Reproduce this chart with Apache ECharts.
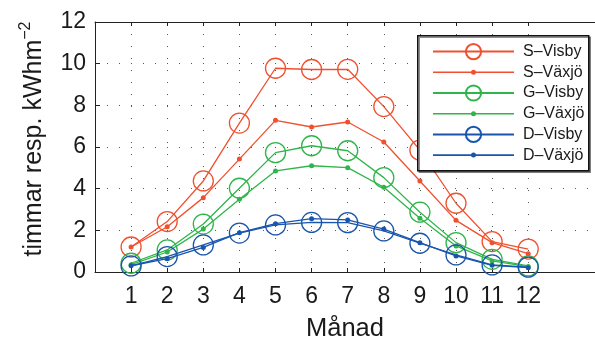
<!DOCTYPE html>
<html>
<head>
<meta charset="utf-8">
<script src="https://cdn.jsdelivr.net/npm/echarts@6/dist/echarts.min.js"></script>
<style>
  html, body { margin: 0; padding: 0; background: #fff; }
  #chart { width: 595px; height: 340px; }
</style>
</head>
<body>
<div id="chart"></div>
<script>
// 月份
var months = [1, 2, 3, 4, 5, 6, 7, 8, 9, 10, 11, 12]
var seriesNames = ['S\u2013Visby', 'S\u2013Växjö', 'G\u2013Visby', 'G\u2013Växjö', 'D\u2013Visby', 'D\u2013Växjö']

// 数据
var sVisby = [1.2, 2.42, 4.37, 7.15, 9.78, 9.72, 9.73, 7.94, 5.85, 3.3, 1.46, 1.1]
var sVaxjo = [1.2, 2.17, 3.57, 5.42, 7.28, 6.96, 7.2, 6.24, 4.37, 2.48, 1.41, 0.88]
var gVisby = [0.42, 1.06, 2.3, 4.02, 5.73, 6.06, 5.82, 4.53, 2.87, 1.41, 0.61, 0.29]
var gVaxjo = [0.35, 0.96, 2.06, 3.49, 4.85, 5.1, 5.01, 4.07, 2.58, 1.25, 0.53, 0.26]
var dVisby = [0.29, 0.74, 1.3, 1.87, 2.26, 2.38, 2.37, 1.97, 1.38, 0.82, 0.34, 0.23]
var dVaxjo = [0.3, 0.64, 1.18, 1.89, 2.32, 2.56, 2.5, 2.06, 1.41, 0.77, 0.32, 0.21]

var seriesValues = [sVisby, sVaxjo, gVisby, gVaxjo, dVisby, dVaxjo]
var colors = ['#f0502e', '#f0502e', '#2fb54a', '#2fb54a', '#1955ad', '#1955ad']

var font = "'Liberation Sans', Arial, Helvetica, sans-serif"
var textColor = '#1a1a1a'
var gridDots = { color: '#555', width: 1, type: [1, 11] }

// 图例里的 "线 + 小点" 图标
var dotLineIcon = 'path://M0,1.7 L81,1.7 L81,3.3 L0,3.3 Z M38,2.5 A2.5,2.5 0 1,1 43,2.5 A2.5,2.5 0 1,1 38,2.5 Z'

var series = [],
  legendData = []

for (let i = 0; i < seriesNames.length; i++) {
  let isVisby = i % 2 === 0
  series.push({
    name: seriesNames[i],
    type: 'line',
    data: months.map(function (m, k) { return [m, seriesValues[i][k]] }),
    symbol: 'circle',
    symbolSize: isVisby ? 20 : 5,
    showAllSymbol: true,
    lineStyle: { color: colors[i], width: 1.3 },
    itemStyle: isVisby
      ? { color: 'none', borderColor: colors[i], borderWidth: 1.3 }
      : { color: colors[i], borderWidth: 0 },
    emphasis: { disabled: true },
    z: 2 + i * 0.01
  })

  legendData.push(isVisby ? { name: seriesNames[i] } : { name: seriesNames[i], icon: dotLineIcon })
}

var chart = echarts.init(document.getElementById('chart'), null, { renderer: 'canvas' })

chart.setOption({
  animation: false,
  grid: { left: 95, top: 22, right: 0, bottom: 68, outerBoundsMode: 'none' },
  xAxis: [{
    type: 'value',
    min: 0,
    max: 13.85,
    name: 'Månad',
    nameLocation: 'middle',
    nameGap: 44,
    nameTextStyle: { fontFamily: font, fontSize: 25.5, color: textColor },
    axisLine: { lineStyle: { color: '#222', width: 1 } },
    axisTick: { inside: true, length: 4, customValues: months, lineStyle: { color: '#222' } },
    axisLabel: { customValues: months, fontFamily: font, fontSize: 23, color: textColor, margin: 13 },
    splitLine: { show: true, lineStyle: gridDots }
  }, {
    // 上边框
    type: 'value',
    position: 'top',
    min: 0,
    max: 13.85,
    axisLine: { show: true, lineStyle: { color: '#222', width: 1 } },
    axisTick: { show: true, inside: true, length: 4, customValues: months, lineStyle: { color: '#222' } },
    axisLabel: { show: false },
    splitLine: { show: false }
  }],
  yAxis: {
    type: 'value',
    min: 0,
    max: 12,
    interval: 2,
    name: '{b|timmar resp. kWhm}{s|\u22122}',
    nameLocation: 'middle',
    nameGap: 45,
    nameTextStyle: {
      padding: [0, 0, 0, 16],
      rich: {
        b: { fontFamily: font, fontSize: 25, color: textColor, lineHeight: 32 },
        s: { fontFamily: font, fontSize: 16, color: textColor, verticalAlign: 'top', lineHeight: 16 }
      }
    },
    axisLine: { show: true, lineStyle: { color: '#222', width: 1 } },
    axisTick: { show: true, inside: true, length: 5, lineStyle: { color: '#222' } },
    axisLabel: { fontFamily: font, fontSize: 23, color: textColor, margin: 9 },
    splitLine: { show: true, lineStyle: gridDots }
  },
  legend: {
    data: legendData,
    orient: 'vertical',
    left: 432,
    top: 41.5,
    padding: 0,
    itemGap: 2.6,
    itemWidth: 81,
    itemHeight: 19,
    selectedMode: false,
    textStyle: { fontFamily: font, fontSize: 16, color: textColor, padding: [0, 0, 0, 4] },
    z: 5
  },
  // 图例边框
  graphic: [{
    type: 'rect',
    left: 417,
    top: 35,
    shape: { width: 171, height: 135 },
    style: { fill: '#fff', stroke: '#111', lineWidth: 1.5, shadowColor: 'rgba(0,0,0,0.45)', shadowOffsetX: 1.5, shadowOffsetY: 1.5 },
    z: 4
  }],
  series: series
})
</script>
</body>
</html>
